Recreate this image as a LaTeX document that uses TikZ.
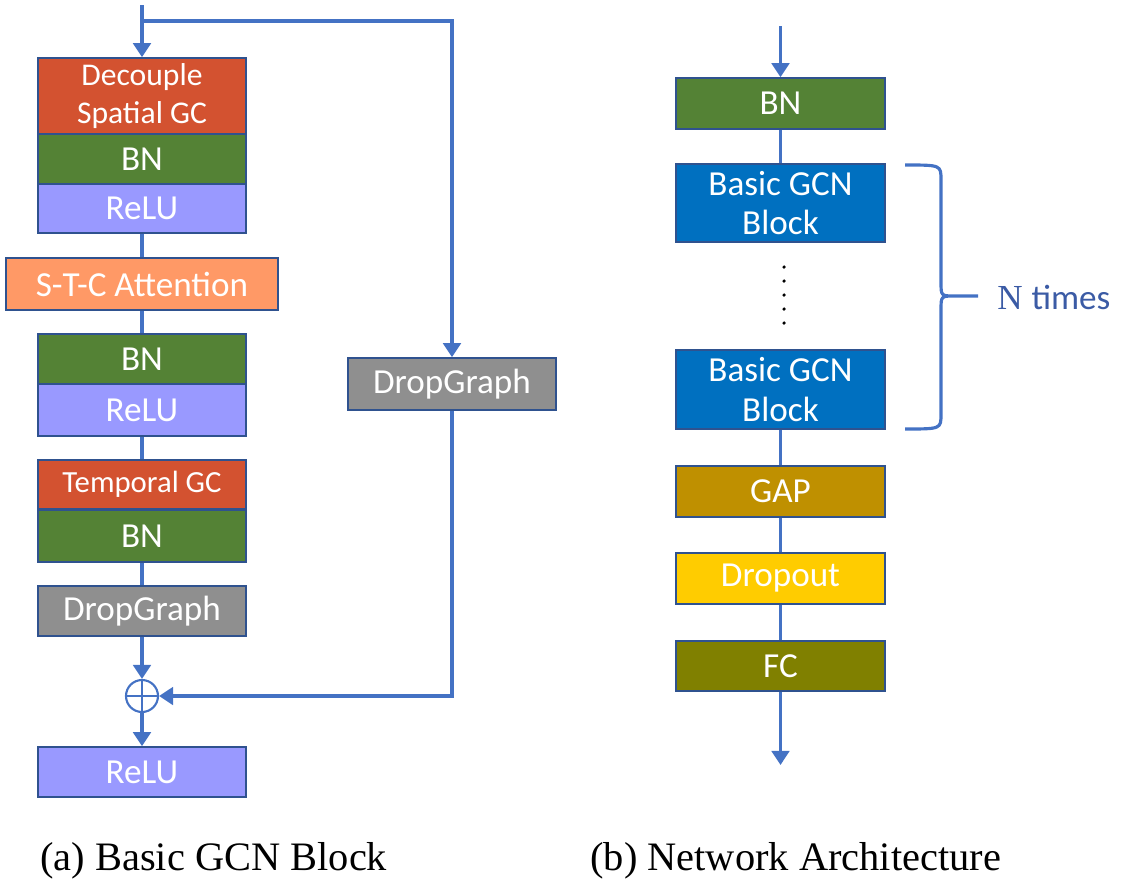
\documentclass[tikz,border=0pt]{standalone}
\usepackage{fontspec}
\setmainfont{Liberation Serif}
\newfontfamily\boxfont{Carlito}
\usetikzlibrary{calc,arrows.meta}
\usepackage{xcolor}
\definecolor{gcred}{HTML}{D35230}
\definecolor{bngreen}{HTML}{548235}
\definecolor{relublue}{HTML}{9999FF}
\definecolor{attorange}{HTML}{FF9966}
\definecolor{dropgray}{HTML}{8F8F8F}
\definecolor{gcnblue}{HTML}{0070C0}
\definecolor{gapgold}{HTML}{BF9000}
\definecolor{doyellow}{HTML}{FFCC00}
\definecolor{fcolive}{HTML}{808000}
\definecolor{boxedge}{HTML}{2F528F}
\definecolor{linkblue}{HTML}{4472C4}
\definecolor{labelblue}{HTML}{3B5BA5}

\begin{document}
\begin{tikzpicture}[x=0.02cm, y=-0.02cm,
  blk/.style={draw=boxedge, line width=0.9pt, text=white, inner sep=0pt,
    font=\boxfont\fontsize{20}{22.5}\selectfont, align=center,
    minimum width=4.16cm, minimum height=1cm},
  link/.style={draw=linkblue, line width=1.8pt},
  arr/.style={link, -{Triangle[width=10pt,length=8pt]}}]
  \useasboundingbox (0,0) rectangle (1123,879);
  % (a) Basic GCN Block
  \node[blk, fill=gcred, minimum height=1.52cm, font=\boxfont\fontsize{18}{21.5}\selectfont] (dsgc) at (142,96) {Decouple\\Spatial GC};
  \node[blk, fill=bngreen] (bn1) at (142,159) {BN};
  \node[blk, fill=relublue, minimum height=0.98cm] (relu1) at (142,208.5) {ReLU};
  \node[blk, fill=attorange, minimum width=5.44cm, minimum height=1.04cm] (stc) at (142,284) {S-T-C Attention};
  \node[blk, fill=bngreen] (bn2) at (142,359) {BN};
  \node[blk, fill=relublue, minimum height=1.04cm] (relu2) at (142,410) {ReLU};
  \node[blk, fill=gcred, minimum height=0.98cm, font=\boxfont\fontsize{17.5}{21}\selectfont] (tgc) at (142,484.5) {Temporal GC};
  \node[blk, fill=bngreen, minimum height=1.04cm] (bn3) at (142,536) {BN};
  \node[blk, fill=dropgray] (drop1) at (142,611) {DropGraph};
  \node[draw=linkblue, circle, line width=1.2pt, minimum size=0.64cm, inner sep=0pt] (plus) at (142,696) {};
  \draw[linkblue, line width=1.2pt] (plus.north) -- (plus.south) (plus.west) -- (plus.east);
  \node[blk, fill=relublue] (relu3) at (142,772) {ReLU};
  \node[blk, fill=dropgray, minimum height=1.04cm] (drop2) at (452,384) {DropGraph};
  \coordinate (inA) at (142,5);
  \coordinate (split) at (142,21);
  \draw[arr] (inA) -- (dsgc);
  \draw[link] (relu1) -- (stc);
  \draw[link] (stc) -- (bn2);
  \draw[link] (relu2) -- (tgc);
  \draw[link] (bn3) -- (drop1);
  \draw[arr] (drop1) -- (plus);
  \draw[arr] (plus) -- (relu3);
  \draw[arr] (split) -| (drop2);
  \draw[arr] (drop2) |- (plus);
  % (b) Network Architecture
  \node[blk, fill=bngreen, minimum width=4.18cm, minimum height=1.02cm] (bnR) at (780.5,103.5) {BN};
  \node[blk, fill=gcnblue, minimum width=4.18cm, minimum height=1.56cm] (gcn1) at (780.5,203) {Basic GCN\\Block};
  \node[blk, fill=gcnblue, minimum width=4.18cm, minimum height=1.58cm] (gcn2) at (780.5,389.5) {Basic GCN\\Block};
  \node[blk, fill=gapgold, minimum width=4.18cm, minimum height=1.02cm] (gap) at (780.5,491.5) {GAP};
  \node[blk, fill=doyellow, minimum width=4.18cm, minimum height=1.02cm] (dropout) at (780.5,578.5) {Dropout};
  \node[blk, fill=fcolive, minimum width=4.18cm] (fc) at (780.5,666) {FC};
  \coordinate (inB) at (780.5,26);
  \coordinate (outB) at (780.5,765);
  \draw[arr] (inB) -- (bnR);
  \draw[link] (bnR) -- (gcn1);
  \draw[link] (gcn2) -- (gap);
  \draw[link] (gap) -- (dropout);
  \draw[link] (dropout) -- (fc);
  \draw[arr] (fc) -- (outB);
  \foreach \k in {0,...,4}
    \fill (784,267+14*\k) circle (1pt);
  % brace round the repeated blocks
  \draw[linkblue, line width=1.8pt]
    (905,165) .. controls (941,165) .. (941,180) -- (941,282)
    .. controls (941,296) .. (955,296) -- (978,296)
    (955,296) .. controls (941,296) .. (941,310) -- (941,414)
    .. controls (941,429) .. (905,429);
  \node[anchor=west, text=labelblue, inner sep=0pt] (ntimes) at (997,297)
    {\fontsize{20}{23}\selectfont N {\boxfont times}};
  % captions
  \node[anchor=base west, inner sep=0pt, font=\fontsize{23}{27}\selectfont] (capA) at (40,870) {(a) Basic GCN Block};
  \node[anchor=base west, inner sep=0pt, font=\fontsize{23}{27}\selectfont] (capB) at (590,870) {(b) Network Architecture};
\end{tikzpicture}
\end{document}
